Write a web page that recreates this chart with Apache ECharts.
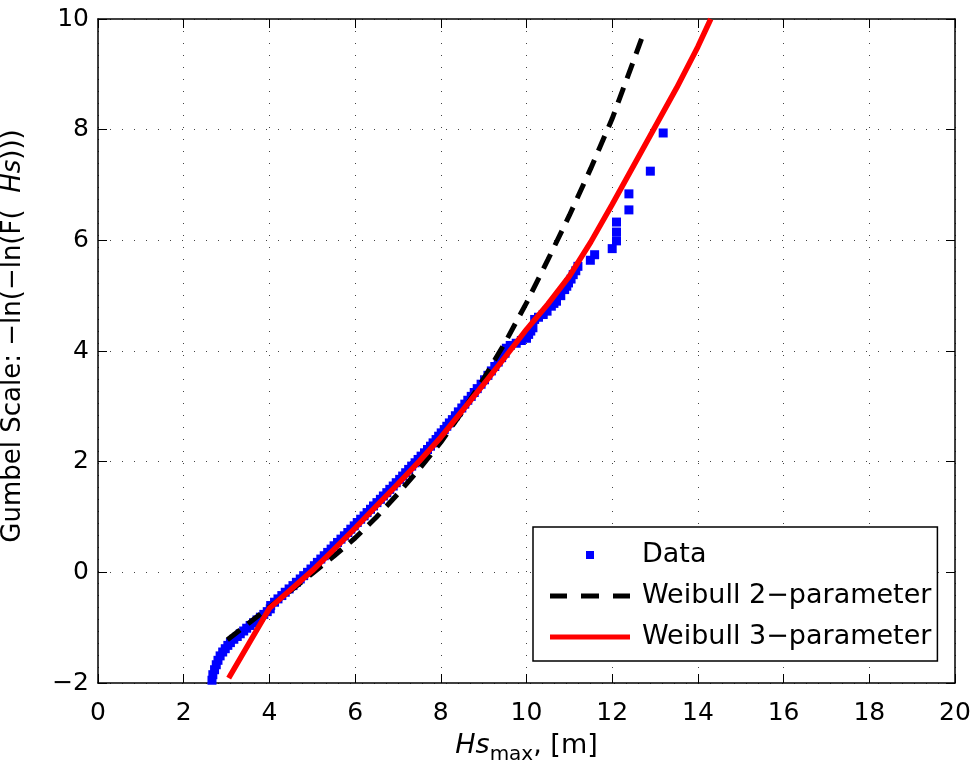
<!DOCTYPE html>
<html>
<head>
<meta charset="utf-8">
<script src="https://cdn.jsdelivr.net/npm/echarts@6/dist/echarts.min.js"></script>
<style>html,body{margin:0;padding:0;background:#fff}#c{width:975px;height:780px}</style>
</head>
<body>
<div id="c"></div>
<script>
// ---- data (x = Hs_max [m], y = Gumbel reduced variate) ----
var dataPoints = [
  [2.66,-1.95],[2.68,-1.85],[2.72,-1.76],[2.76,-1.67],[2.80,-1.59],[2.85,-1.51],[2.91,-1.44],[2.97,-1.38],
  [3.03,-1.32],[3.09,-1.27],[3.17,-1.21],[3.25,-1.16],[3.32,-1.11],[3.40,-1.06],[3.47,-1.01],[3.55,-0.96],
  [3.63,-0.91],[3.71,-0.86],[3.79,-0.81],[3.87,-0.76],[3.95,-0.71],[4.02,-0.66],
  [4.03,-0.60],[4.12,-0.54],[4.20,-0.48],[4.29,-0.42],[4.37,-0.36],[4.46,-0.30],[4.55,-0.24],[4.63,-0.18],
  [4.72,-0.12],[4.80,-0.06],[4.89,0.00],[4.97,0.06],[5.05,0.12],[5.12,0.18],[5.20,0.24],[5.28,0.30],
  [5.36,0.36],[5.44,0.42],[5.51,0.48],[5.59,0.54],[5.67,0.60],[5.75,0.66],[5.83,0.72],[5.90,0.78],
  [5.98,0.84],[6.05,0.90],[6.13,0.96],[6.21,1.02],[6.28,1.08],[6.36,1.14],[6.43,1.20],[6.51,1.26],
  [6.59,1.32],[6.66,1.38],[6.74,1.44],[6.81,1.50],[6.89,1.56],[6.96,1.62],[7.04,1.68],[7.11,1.74],
  [7.18,1.80],[7.25,1.86],[7.32,1.92],[7.40,1.98],[7.47,2.04],[7.54,2.10],[7.62,2.16],[7.69,2.22],
  [7.76,2.28],[7.82,2.34],[7.89,2.40],[7.95,2.46],[8.01,2.52],[8.08,2.58],[8.14,2.64],[8.20,2.70],
  [8.27,2.76],[8.34,2.83],[8.41,2.90],[8.49,2.97],[8.56,3.04],[8.63,3.11],[8.71,3.18],[8.78,3.25],
  [8.85,3.32],[8.94,3.40],[9.02,3.48],[9.10,3.56],[9.18,3.64],[9.26,3.72],[9.34,3.80],[9.42,3.88],
  [9.50,3.96],[9.53,4.05],[9.62,4.10],[9.76,4.14],[9.88,4.19],[10.00,4.23],[10.05,4.30],[10.10,4.36],
  [10.15,4.42],[10.19,4.57],[10.28,4.61],[10.39,4.66],[10.48,4.72],[10.58,4.81],[10.64,4.86],[10.70,4.90],
  [10.80,5.00],[10.89,5.11],[10.94,5.17],[10.98,5.23],[11.04,5.30],[11.09,5.38],[11.15,5.45],[11.20,5.53],
  [11.49,5.64],[11.59,5.74],[12.00,5.85],[12.10,5.99],[12.10,6.15],[12.10,6.33],[12.39,6.55],[12.39,6.84],
  [12.89,7.25],[13.19,7.94]
];
var weibull2 = [
  [3.02,-1.22],[3.5,-0.93],[4.0,-0.63],[4.5,-0.33],[5.0,-0.02],[5.5,0.29],[6.0,0.62],[6.5,1.00],
  [7.0,1.42],[7.5,1.87],[8.0,2.35],[8.5,2.90],[9.0,3.50],[9.5,4.15],[10.0,4.87],[10.5,5.65],
  [11.0,6.45],[11.5,7.30],[12.0,8.20],[12.5,9.25],[12.75,9.78]
];
var weibull3 = [
  [3.05,-1.91],[4.0,-0.65],[4.5,-0.31],[5.0,0.03],[5.5,0.41],[6.0,0.80],[6.5,1.20],[7.0,1.60],
  [7.5,2.01],[8.0,2.44],[8.5,2.92],[9.0,3.40],[9.5,3.89],[10.0,4.39],[10.5,4.85],[11.0,5.35],
  [11.5,5.97],[12.0,6.65],[12.5,7.35],[13.0,8.05],[13.5,8.75],[14.0,9.50],[14.3,10.0]
];
var seriesNames = ['Data','Weibull 2\u2212parameter','Weibull 3\u2212parameter'];
var xTicks = {min:0, max:20, interval:2};
var yTicks = {min:-2, max:10, interval:2};

var FONT = '"DejaVu Sans", Verdana, sans-serif';
var chart = echarts.init(document.getElementById('c'), null, {renderer:'canvas'});
var gridLine = {show:true, lineStyle:{color:'#444', width:1, type:[1,11]}};
var axLine = {show:true, onZero:false, lineStyle:{color:'#000', width:1.5}};
var tick = {show:true, inside:true, length:9, lineStyle:{color:'#000', width:1}};
chart.setOption({
  animation:false,
  backgroundColor:'#fff',
  grid:{left:98, right:20, top:19, bottom:97, containLabel:false, outerBoundsMode:'none'},
  xAxis:[
    {type:'value', position:'bottom', min:xTicks.min, max:xTicks.max, interval:xTicks.interval,
     axisLine:axLine, axisTick:tick, splitLine:gridLine,
     axisLabel:{color:'#000', fontSize:25, fontFamily:FONT, margin:18},
     name:'{i|Hs}{sub|max}{n|, [m]}', nameLocation:'middle', nameGap:44,
     nameTextStyle:{color:'#000', fontSize:27, fontFamily:FONT,
       rich:{i:{fontSize:27, fontStyle:'italic', fontFamily:FONT, color:'#000'},
             sub:{fontSize:20, fontFamily:FONT, color:'#000', padding:[18,0,0,0]},
             n:{fontSize:27, fontFamily:FONT, color:'#000'}}}},
    {type:'value', position:'top', min:xTicks.min, max:xTicks.max, interval:xTicks.interval,
     axisLine:axLine, axisTick:tick, splitLine:{show:false}, axisLabel:{show:false}}
  ],
  yAxis:[
    {type:'value', position:'left', min:yTicks.min, max:yTicks.max, interval:yTicks.interval,
     axisLine:axLine, axisTick:tick, splitLine:gridLine,
     axisLabel:{color:'#000', fontSize:25, fontFamily:FONT, margin:9,
       formatter:function(v){return String(v).replace('-', '\u2212');}},
     name:'{n|Gumbel Scale: \u2212ln(\u2212ln(F(  }{i|Hs}{n|)))}', nameLocation:'middle', nameGap:72,
     nameTextStyle:{color:'#000', fontSize:26, fontFamily:FONT, padding:[0,0,0,30],
       rich:{i:{fontSize:26, fontStyle:'italic', fontFamily:FONT, color:'#000'},
             n:{fontSize:26, fontFamily:FONT, color:'#000'}}}},
    {type:'value', position:'right', min:yTicks.min, max:yTicks.max, interval:yTicks.interval,
     axisLine:axLine, axisTick:tick, splitLine:{show:false}, axisLabel:{show:false}}
  ],
  legend:{
    show:true, orient:'vertical', left:533, top:527,
    backgroundColor:'#fff', borderColor:'#000', borderWidth:1.5,
    padding:[13,6,9,17], itemGap:11, itemWidth:80, itemHeight:8, symbolKeepAspect:true,
    textStyle:{color:'#000', fontSize:27, fontFamily:FONT, lineHeight:30, padding:[0,0,0,7]},
    data:[
      {name:seriesNames[0], icon:'path://M0,0h0.01v0.01h-0.01z M36,0h8v8h-8z M79.99,7.99h0.01v0.01h-0.01z'},
      {name:seriesNames[1], icon:'path://M0,0h17v5h-17z M31,0h18v5h-18z M63,0h17v5h-17z'},
      {name:seriesNames[2], icon:'path://M0,0h80v5h-80z'}
    ]
  },
  series:[
    {name:seriesNames[0], type:'scatter', xAxisIndex:0, yAxisIndex:0, data:dataPoints,
     symbol:'rect', symbolSize:9, itemStyle:{color:'#0000ff', opacity:1}, z:2},
    {name:seriesNames[1], type:'line', xAxisIndex:0, yAxisIndex:0, data:weibull2,
     symbol:'none', showSymbol:false, lineStyle:{color:'#000', width:5, type:[16,10], cap:'butt'},
     itemStyle:{color:'#000'}, z:3},
    {name:seriesNames[2], type:'line', xAxisIndex:0, yAxisIndex:0, data:weibull3,
     symbol:'none', showSymbol:false, lineStyle:{color:'#ff0000', width:5.5},
     itemStyle:{color:'#ff0000'}, z:4}
  ]
});
</script>
</body>
</html>
